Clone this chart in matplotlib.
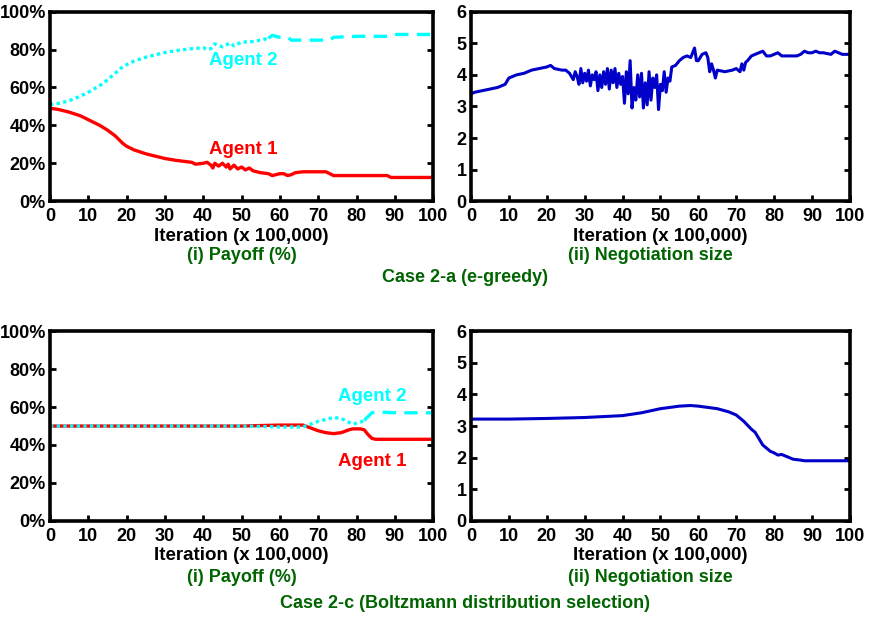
import matplotlib.pyplot as plt
import numpy as np

# ---- data ----
# Case 2-a, payoff (%)
a_x1 = [0, 2, 5, 8, 10, 13, 15, 17, 19, 20, 22, 25, 28, 30, 33, 35, 37, 38, 40, 41, 42,
        42.5, 43, 44, 45, 46, 46.5, 47, 48, 49, 50, 51, 52, 53, 55, 57, 58, 59, 60, 61,
        62, 63, 64, 66, 70, 72, 73, 74, 80, 88, 89, 90, 95, 100]
a_agent1 = [49, 48.5, 47, 45, 43, 40, 37.5, 34.5, 30.5, 29, 27, 25, 23.5, 22.5, 21.5, 21,
            20.5, 19.5, 20, 20.5, 19, 17.5, 20, 18.5, 20, 18, 19.5, 17, 19, 17, 18, 16.5,
            17.5, 16, 15, 14.5, 13.5, 14, 14.5, 14.5, 13.5, 14, 15, 15.5, 15.5, 15.5, 14.5,
            13.5, 13.5, 13.5, 12.5, 12.5, 12.5, 12.5]
a_x2 = [0, 2, 5, 8, 10, 13, 15, 17, 19, 20, 22, 25, 28, 30, 33, 35, 37, 40, 41, 42, 43,
        45, 47, 48, 50, 52, 55, 57, 58, 60, 62, 63, 66, 70, 73, 74, 80, 88, 90, 95, 100]
a_agent2 = [51, 51.5, 53, 55.5, 57.5, 61, 64, 67.5, 71, 72, 74, 76, 77.5, 78.5, 79.5, 80,
            80.5, 81, 80, 80.5, 83, 81.5, 83.5, 82, 84, 84, 85, 86, 87.5, 86.5, 86.5, 85,
            85, 85, 85, 86.5, 87, 87, 88, 88, 88]

# Case 2-a, negotiation size
a_nx = [0, 1, 3, 5, 7, 9, 10, 12, 14, 16, 18, 20, 21, 22, 24, 25, 26,
        27, 27.5, 28, 28.5, 29, 29.5, 30, 30.5, 31, 31.5, 32, 32.5, 33, 33.5, 34, 34.5,
        35, 35.5, 36, 36.5, 37, 37.5, 38, 38.5, 39, 39.5, 40, 40.5, 41, 41.5, 42, 42.5,
        43, 43.5, 44, 44.5, 45, 45.5, 46, 46.5, 47, 47.5, 48, 48.5, 49, 49.5, 50, 50.5,
        51, 51.5, 52, 52.5, 53,
        54, 55, 56, 57, 58, 58.5, 59, 59.5, 60, 61, 62, 62.5, 63, 63.5, 64, 64.5, 65,
        67, 69, 70, 71, 71.5, 72, 72.5, 73, 74, 75, 76, 77, 78, 79, 80, 81, 82, 84, 86,
        87, 88, 89, 90, 91, 92, 93, 95, 96, 97, 98, 100]
a_size = [3.4, 3.45, 3.5, 3.55, 3.6, 3.7, 3.9, 4.0, 4.05, 4.15, 4.2, 4.25, 4.3, 4.2, 4.15,
          4.15, 4.05,
          3.85, 4.1, 3.95, 3.7, 4.2, 3.75, 4.05, 3.8, 4.15, 3.65, 4.0, 3.85, 4.1, 3.5,
          4.0, 3.6,
          4.1, 3.7, 4.2, 3.55, 4.15, 3.75, 4.2, 3.6, 4.05, 3.7, 3.95, 3.1, 4.1, 3.4, 4.45,
          2.95, 3.6, 3.2, 4.0, 3.3, 4.05, 2.95, 3.75, 3.05, 4.1, 3.2, 3.9, 3.6, 4.0, 2.9,
          3.7, 3.5, 4.1, 3.45, 3.9, 3.8, 4.25,
          4.3, 4.45, 4.55, 4.6, 4.55, 4.7, 4.85, 4.45, 4.45, 4.65, 4.7, 4.55, 4.1, 4.35,
          4.15, 3.9, 4.15, 4.1, 4.15, 4.2, 4.1, 4.35, 4.15, 4.4, 4.45, 4.6, 4.65, 4.7,
          4.75, 4.6, 4.6, 4.65, 4.7, 4.6, 4.6, 4.6, 4.65, 4.75, 4.7, 4.7, 4.75, 4.7, 4.7,
          4.65, 4.75, 4.7, 4.65, 4.65]

# Case 2-c, payoff (%)
c_x = [0, 10, 20, 30, 40, 50, 60, 66, 68, 70, 72, 74, 76, 78, 79, 80, 81, 82, 83, 84,
       85, 90, 100]
c_agent1 = [50, 50, 50, 50, 50, 50, 50.5, 50.5, 49, 47.5, 46.5, 46, 46.5, 48, 48.5, 48.5,
            48.5, 48, 45.5, 43.5, 43, 43, 43]
c_agent2 = [50, 50, 50, 50, 50, 50, 49.5, 49.5, 51, 52.5, 53.5, 54.5, 54, 52, 51, 51.5,
            52, 53, 55, 57, 57.5, 57, 57]

# Case 2-c, negotiation size
c_nx = [0, 10, 20, 30, 40, 45, 50, 55, 58, 60, 65, 68, 70, 72, 74, 75, 76, 77, 78, 79,
        80, 81, 82, 83, 85, 87, 88, 90, 100]
c_size = [3.22, 3.22, 3.24, 3.27, 3.33, 3.42, 3.55, 3.63, 3.65, 3.63, 3.55, 3.45, 3.35,
          3.15, 2.9, 2.8, 2.6, 2.4, 2.3, 2.2, 2.15, 2.08, 2.1, 2.05, 1.95, 1.92, 1.9,
          1.9, 1.9]

x_ticks = list(range(0, 101, 10))
pct_ticks = [0, 20, 40, 60, 80, 100]
pct_labels = ["0%", "20%", "40%", "60%", "80%", "100%"]
size_ticks = [0, 1, 2, 3, 4, 5, 6]

RED = "#ff0000"
CYAN = "#00ffff"
BLUE = "#0000c8"
GREEN = "#006400"

plt.rcParams["font.family"] = "Liberation Sans"
plt.rcParams["font.weight"] = "bold"


def style_axes(ax, yticks, ylabels=None, ymax=None):
    ax.set_xlim(0, 100)
    ax.set_ylim(0, ymax)
    ax.set_xticks(x_ticks)
    ax.set_yticks(yticks)
    if ylabels is not None:
        ax.set_yticklabels(ylabels)
    for s in ax.spines.values():
        s.set_linewidth(2.6)
    ax.tick_params(direction="in", length=4, width=2, labelsize=13, pad=3,
                   right=True, top=False)
    ax.tick_params(axis="x", pad=5)
    for lab in ax.get_xticklabels() + ax.get_yticklabels():
        lab.set_fontweight("bold")
    ax.set_xlabel("Iteration (x 100,000)", fontsize=13.5, fontweight="bold", labelpad=2)


fig = plt.figure(figsize=(8.69, 6.17), dpi=100)

# top row
ax1 = fig.add_axes([0.0575, 0.674, 0.441, 0.307])
ax1.plot(a_x1, a_agent1, color=RED, lw=2.4)
split = 28
ax1.plot(a_x2[:split], a_agent2[:split], color=CYAN, lw=2.4, ls=(0, (1, 1)))
ax1.plot(a_x2[split - 1:], a_agent2[split - 1:], color=CYAN, lw=2.4, ls=(0, (4, 2.5)))
ax1.text(50.5, 74, "Agent 2", color=CYAN, fontsize=13.5, fontweight="bold", ha="center", va="center")
ax1.text(50.5, 27.5, "Agent 1", color=RED, fontsize=13.5, fontweight="bold", ha="center", va="center")
style_axes(ax1, pct_ticks, pct_labels, 100)

ax2 = fig.add_axes([0.542, 0.674, 0.436, 0.307])
ax2.plot(a_nx, a_size, color=BLUE, lw=2.2)
style_axes(ax2, size_ticks, ymax=6)

# bottom row
ax3 = fig.add_axes([0.0575, 0.156, 0.441, 0.307])
ax3.plot(c_x, c_agent1, color=RED, lw=2.4)
ax3.plot(c_x[:18], c_agent2[:18], color=CYAN, lw=2.4, ls=(0, (1, 1)))
ax3.plot(c_x[17:], c_agent2[17:], color=CYAN, lw=2.4, ls=(0, (4, 2.5)))
ax3.text(84, 65.5, "Agent 2", color=CYAN, fontsize=13.5, fontweight="bold", ha="center", va="center")
ax3.text(84, 31.5, "Agent 1", color=RED, fontsize=13.5, fontweight="bold", ha="center", va="center")
style_axes(ax3, pct_ticks, pct_labels, 100)

ax4 = fig.add_axes([0.542, 0.156, 0.436, 0.307])
ax4.plot(c_nx, c_size, color=BLUE, lw=2.2)
style_axes(ax4, size_ticks, ymax=6)

# captions
cap = dict(color=GREEN, fontsize=13, fontweight="bold", ha="center", va="center")
fig.text(0.278, 1 - 256 / 617, "(i) Payoff (%)", **cap)
fig.text(0.748, 1 - 256 / 617, "(ii) Negotiation size", **cap)
fig.text(0.535, 1 - 277 / 617, "Case 2-a (e-greedy)", **cap)
fig.text(0.278, 1 - 578 / 617, "(i) Payoff (%)", **cap)
fig.text(0.748, 1 - 578 / 617, "(ii) Negotiation size", **cap)
fig.text(0.535, 1 - 604 / 617, "Case 2-c (Boltzmann distribution selection)", **cap)

fig.savefig("out.png", dpi=100)
